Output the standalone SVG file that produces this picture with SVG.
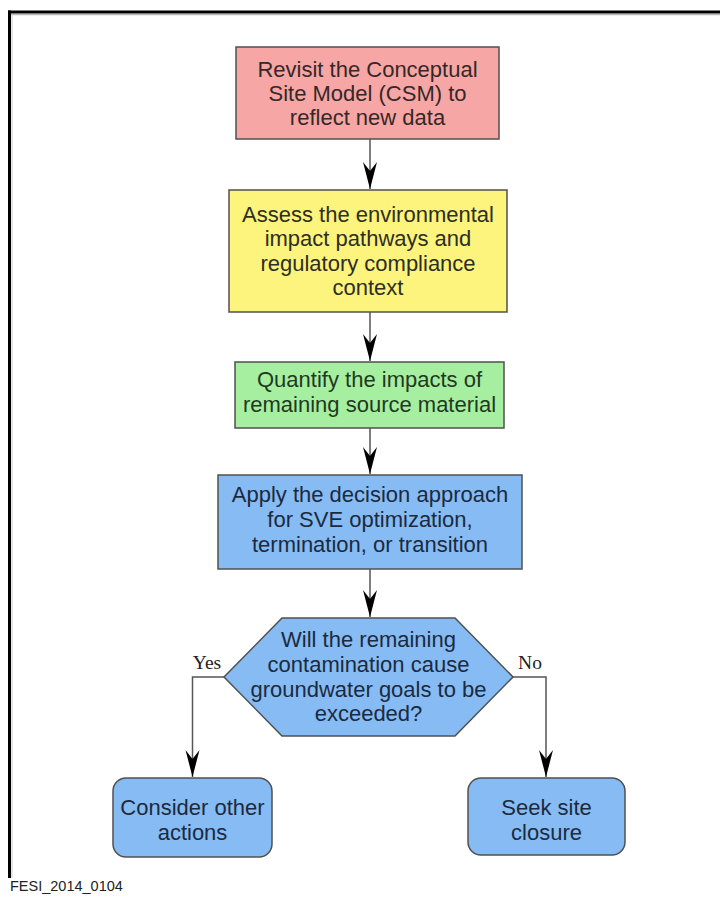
<svg xmlns="http://www.w3.org/2000/svg" width="720" height="897" viewBox="0 0 720 897">
<style>
.box{stroke:#505050;stroke-width:1.5}
.t{font-family:"Liberation Sans",Arial,sans-serif;font-size:22px;text-anchor:middle}
.lbl{font-family:"Liberation Serif","Times New Roman",serif;font-size:19.5px;text-anchor:middle;fill:#222}
.conn{fill:none;stroke:#555;stroke-width:1.5}
</style>
<defs>
<marker id="ah" markerUnits="userSpaceOnUse" markerWidth="30" markerHeight="16" refX="27" refY="8" orient="auto">
<path d="M0,1 L27,8 L0,15 L9,8 Z" fill="#000"/>
</marker>
</defs>
<rect width="720" height="897" fill="#fff"/>
<g id="frame">
<line x1="8" y1="14.5" x2="720" y2="14.5" stroke="#bbb" stroke-width="1.5"/>
<line x1="12" y1="14" x2="12" y2="878" stroke="#ccc" stroke-width="1"/>
<line x1="8" y1="12" x2="720" y2="12" stroke="#000" stroke-width="3"/>
<line x1="9.5" y1="10.5" x2="9.5" y2="878" stroke="#000" stroke-width="3"/>
</g>
<g id="n1">
<rect class="box" x="236" y="47" width="263" height="92" fill="#f6a6a5"/>
<text class="t" fill="#352828"><tspan x="367.5" y="77">Revisit the Conceptual</tspan><tspan x="367.5" y="101">Site Model (CSM) to</tspan><tspan x="367.5" y="125">reflect new data</tspan></text>
</g>
<g id="n2">
<rect class="box" x="229" y="190" width="278" height="122" fill="#fcf47c"/>
<text class="t" fill="#2e2e22"><tspan x="368" y="221.5">Assess the environmental</tspan><tspan x="368" y="246">impact pathways and</tspan><tspan x="368" y="270.5">regulatory compliance</tspan><tspan x="368" y="295">context</tspan></text>
</g>
<g id="n3">
<rect class="box" x="235" y="362" width="269" height="66" fill="#a6efa1"/>
<text class="t" fill="#1f3a1f"><tspan x="369.5" y="387">Quantify the impacts of</tspan><tspan x="369.5" y="412">remaining source material</tspan></text>
</g>
<g id="n4">
<rect class="box" x="218" y="475" width="304" height="94" fill="#86bcf3"/>
<text class="t" fill="#1c2a40"><tspan x="370" y="502">Apply the decision approach</tspan><tspan x="370" y="527">for SVE optimization,</tspan><tspan x="370" y="552">termination, or transition</tspan></text>
</g>
<g id="n5">
<polygon class="box" points="282,618 455,618 513,677 455,736 282,736 224,677" fill="#86bcf3"/>
<text class="t" fill="#1c2a40"><tspan x="368.5" y="647">Will the remaining</tspan><tspan x="368.5" y="672">contamination cause</tspan><tspan x="368.5" y="697">groundwater goals to be</tspan><tspan x="368.5" y="721">exceeded?</tspan></text>
</g>
<g id="n6">
<rect class="box" x="113" y="778" width="159" height="79" rx="13" fill="#86bcf3"/>
<text class="t" fill="#1c2a40"><tspan x="192.5" y="815">Consider other</tspan><tspan x="192.5" y="840">actions</tspan></text>
</g>
<g id="n7">
<rect class="box" x="468" y="778" width="157" height="77" rx="13" fill="#86bcf3"/>
<text class="t" fill="#1c2a40"><tspan x="546.5" y="815">Seek site</tspan><tspan x="546.5" y="840">closure</tspan></text>
</g>
<g id="connectors">
<path class="conn" d="M370,139 V189" marker-end="url(#ah)"/>
<path class="conn" d="M370,312 V361" marker-end="url(#ah)"/>
<path class="conn" d="M370,428 V474" marker-end="url(#ah)"/>
<path class="conn" d="M370,569 V617" marker-end="url(#ah)"/>
<path class="conn" d="M224,677 H192.5 V777" marker-end="url(#ah)"/>
<path class="conn" d="M513,677 H546 V777" marker-end="url(#ah)"/>
<text class="lbl" x="207" y="669">Yes</text>
<text class="lbl" x="530" y="669">No</text>
</g>
<text x="10" y="891" font-family="Liberation Sans,Arial,sans-serif" font-size="14.5" fill="#222">FESI_2014_0104</text>
</svg>
